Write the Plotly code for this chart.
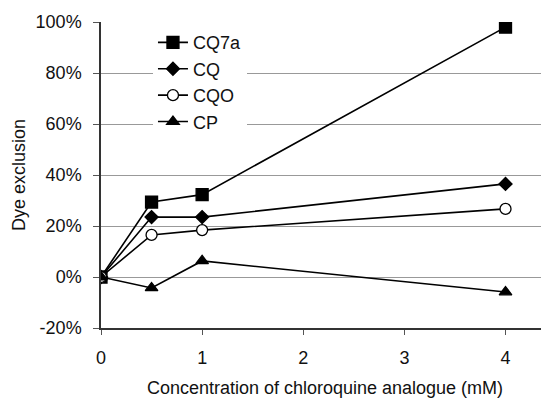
import plotly.graph_objects as go

concentration = [0, 0.5, 1, 4]
series_names = ["CQ7a", "CQ", "CQO", "CP"]
cq7a = [0, 29.4, 32.3, 98]
cq = [0, 23.5, 23.5, 36.5]
cqo = [0, 16.5, 18.4, 26.7]
cp = [0, -4.3, 6.3, -5.9]
x_ticks = [0, 1, 2, 3, 4]
y_ticks = [-20, 0, 20, 40, 60, 80, 100]
y_tick_labels = ["-20%", "0%", "20%", "40%", "60%", "80%", "100%"]

symbols = ["square", "diamond", "circle", "triangle-up"]
fills = ["black", "black", "white", "black"]
sizes = [12, 10, 11, 11]
values = [cq7a, cq, cqo, cp]

fig = go.Figure()
for name, vals, sym, fill, sz in zip(series_names, values, symbols, fills, sizes):
    fig.add_trace(go.Scatter(
        x=concentration, y=vals, name=name, mode="lines+markers",
        line=dict(color="black", width=1.6),
        marker=dict(symbol=sym, size=sz, color=fill,
                    line=dict(color="black", width=1.3)),
    ))

font = "Liberation Sans, Arial, sans-serif"
# page body has an 8px margin, so the figure is 8px smaller than the window
fig.update_layout(
    width=541, height=390,
    margin=dict(l=93, r=0, t=14, b=70),
    paper_bgcolor="white", plot_bgcolor="white",
    font=dict(family=font, size=18, color="#111"),
    showlegend=True,
    legend=dict(x=0.116, y=0.993, xanchor="left", yanchor="top",
                bgcolor="white", font=dict(size=18, color="#111"),
                itemwidth=30),
    xaxis=dict(range=[0, 4.43], tickvals=x_ticks, ticks="outside", ticklen=5,
               tickcolor="#555", showline=True, linecolor="#333", linewidth=1.5,
               showgrid=False, zeroline=False, automargin=False,
               ticklabelstandoff=8,
               title=dict(text="Concentration of chloroquine analogue (mM)", standoff=19,
                          font=dict(size=18))),
    yaxis=dict(range=[-20, 100], tickvals=y_ticks, ticktext=y_tick_labels,
               ticks="outside", ticklen=6, tickcolor="#555",
               showline=True, linecolor="#333", linewidth=1.5,
               showgrid=True, gridcolor="#999", gridwidth=1,
               zeroline=True, zerolinecolor="#999", zerolinewidth=1,
               automargin=False, ticklabelstandoff=8,
               title=dict(text="Dye exclusion", standoff=5, font=dict(size=18))),
)

fig.write_html("out.html")
